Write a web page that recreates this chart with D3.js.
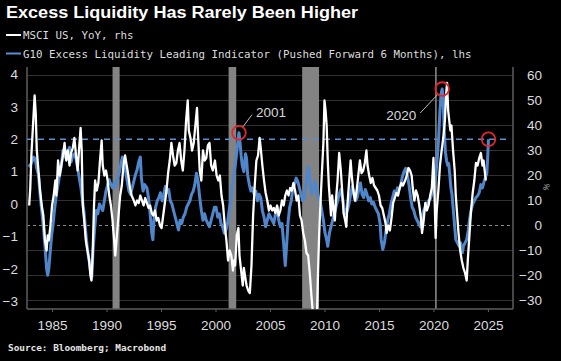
<!DOCTYPE html>
<html><head><meta charset="utf-8">
<script src="https://cdn.jsdelivr.net/npm/d3@7"></script>
<style>
html,body{margin:0;padding:0;background:#000;}
svg{display:block;}
</style></head>
<body>
<script>
// ---------- DATA ----------
const title = "Excess Liquidity Has Rarely Been Higher";
const legendLabels = ["MSCI US, YoY, rhs", "G10 Excess Liquidity Leading Indicator (Pushed Forward 6 Months), lhs"];
const sourceText = "Source: Bloomberg; Macrobond";
const yearTicks = [1985, 1990, 1995, 2000, 2005, 2010, 2015, 2020, 2025];
const leftTicks = [-3, -2, -1, 0, 1, 2, 3, 4];
const rightTicks = [-30, -20, -10, 0, 10, 20, 30, 40, 50, 60];
const recessions = [[1990.55, 1991.2], [2001.2, 2001.9], [2007.95, 2009.5], [2020.15, 2020.3]];

const msciDates = [1982.9,1983.0,1983.1,1983.25,1983.4,1983.5,1983.6,1983.75,1983.9,1984.05,1984.2,1984.35,1984.5,1984.6,1984.7,1984.85,1985.0,1985.15,1985.3,1985.4,1985.55,1985.7,1985.85,1986.0,1986.15,1986.3,1986.45,1986.6,1986.75,1986.9,1987.05,1987.2,1987.35,1987.5,1987.62,1987.72,1987.82,1987.95,1988.1,1988.25,1988.4,1988.52,1988.62,1988.72,1988.85,1988.95,1989.1,1989.25,1989.4,1989.55,1989.65,1989.8,1989.95,1990.1,1990.25,1990.4,1990.55,1990.7,1990.8,1990.95,1991.1,1991.25,1991.4,1991.55,1991.7,1991.85,1992.0,1992.15,1992.3,1992.5,1992.65,1992.8,1992.95,1993.1,1993.25,1993.4,1993.55,1993.7,1993.85,1994.0,1994.15,1994.3,1994.45,1994.6,1994.75,1994.9,1995.05,1995.2,1995.35,1995.5,1995.65,1995.8,1995.95,1996.1,1996.25,1996.4,1996.55,1996.7,1996.85,1997.0,1997.15,1997.3,1997.45,1997.55,1997.7,1997.85,1998.0,1998.15,1998.3,1998.4,1998.55,1998.7,1998.85,1999.0,1999.15,1999.3,1999.45,1999.6,1999.75,1999.95,2000.1,2000.25,2000.4,2000.55,2000.7,2000.85,2001.0,2001.15,2001.3,2001.45,2001.6,2001.7,2001.8,2001.95,2002.1,2002.2,2002.35,2002.5,2002.6,2002.7,2002.85,2003.0,2003.15,2003.3,2003.45,2003.6,2003.75,2003.9,2004.05,2004.15,2004.3,2004.45,2004.6,2004.75,2004.9,2005.05,2005.2,2005.35,2005.5,2005.65,2005.8,2005.95,2006.1,2006.25,2006.4,2006.55,2006.7,2006.85,2007.0,2007.15,2007.3,2007.45,2007.6,2007.75,2007.9,2008.05,2008.2,2008.35,2008.5,2008.65,2008.8,2008.95,2009.1,2009.2,2009.3,2009.4,2009.5,2009.6,2009.75,2009.9,2010.0,2010.1,2010.2,2010.3,2010.4,2010.5,2010.6,2010.7,2010.8,2010.95,2011.05,2011.2,2011.35,2011.5,2011.65,2011.75,2011.9,2012.0,2012.1,2012.25,2012.4,2012.5,2012.65,2012.8,2012.95,2013.1,2013.25,2013.4,2013.55,2013.7,2013.85,2013.95,2014.1,2014.25,2014.4,2014.55,2014.7,2014.85,2015.0,2015.15,2015.3,2015.45,2015.6,2015.7,2015.85,2016.0,2016.15,2016.3,2016.45,2016.6,2016.75,2016.9,2017.05,2017.2,2017.4,2017.55,2017.7,2017.85,2018.0,2018.1,2018.25,2018.4,2018.55,2018.7,2018.85,2018.95,2019.1,2019.25,2019.4,2019.55,2019.7,2019.85,2020.0,2020.1,2020.2,2020.3,2020.45,2020.6,2020.75,2020.9,2021.05,2021.15,2021.25,2021.35,2021.45,2021.55,2021.65,2021.8,2021.95,2022.05,2022.15,2022.3,2022.45,2022.6,2022.75,2022.9,2023.05,2023.15,2023.3,2023.45,2023.6,2023.75,2023.9,2024.05,2024.2,2024.35,2024.5,2024.6,2024.7,2024.8];
const msciValues = [8,15,28,40,52,45,30,22,14,8,4,-6,-10,-4,-6,0,8,12,18,12,26,20,24,28,33,26,30,24,29,31,35,28,22,32,39,30,8,2,-6,-10,-14,-20,-22,-12,8,18,14,17,26,34,24,20,22,18,12,8,2,-6,-12,-4,4,12,16,24,28,24,20,15,12,10,8,10,9,12,10,8,11,9,7,8,5,4,6,2,3,0,-1,4,9,14,21,26,33,28,24,25,30,33,26,22,30,42,50,38,35,30,33,40,47,36,22,18,30,26,27,32,33,24,22,26,20,18,20,12,8,0,-6,-14,-10,-12,-18,-14,-16,-4,-1,-12,-18,-24,-17,-20,-24,-26,-27,-16,4,16,26,28,35,31,24,18,13,10,6,8,6,7,5,8,4,6,10,8,12,14,12,15,14,17,14,10,12,4,2,-3,-6,-11,-12,-19,-28,-36,-42,-45,-38,-20,-5,6,20,33,50,46,40,26,16,10,4,12,8,2,10,18,29,22,12,5,2,-0.5,8,17,26,20,14,10,14,20,26,21,22,25,30,24,20,17,19,16,15,14,12,8,7,4,1,-3,0,-2,3,9,11,13,12,15,17,16,18,20,23,22,20,15,10,14,12,8,3,-3,2,9,6,8,12,15,27,12,-5,6,14,24,30,35,42,52,57,46,42,38,40,30,22,12,6,-3,-10,-14,-17,-19,-22,-14,-4,6,13,18,25,24,27,29,24,26,22,18];

const liqDates = [1982.85,1983.0,1983.15,1983.3,1983.45,1983.6,1983.75,1983.9,1984.05,1984.2,1984.35,1984.5,1984.6,1984.7,1984.8,1984.95,1985.1,1985.25,1985.4,1985.55,1985.7,1985.85,1986.0,1986.15,1986.3,1986.45,1986.6,1986.75,1986.9,1987.05,1987.2,1987.35,1987.5,1987.65,1987.8,1987.95,1988.1,1988.25,1988.4,1988.55,1988.65,1988.75,1988.9,1989.05,1989.2,1989.35,1989.5,1989.65,1989.8,1989.95,1990.1,1990.25,1990.4,1990.55,1990.7,1990.85,1991.0,1991.15,1991.3,1991.45,1991.6,1991.75,1991.9,1992.05,1992.2,1992.35,1992.5,1992.65,1992.8,1992.95,1993.1,1993.2,1993.35,1993.5,1993.7,1993.85,1994.0,1994.15,1994.25,1994.35,1994.5,1994.65,1994.8,1994.95,1995.1,1995.25,1995.4,1995.55,1995.7,1995.85,1996.0,1996.15,1996.3,1996.45,1996.6,1996.75,1996.9,1997.05,1997.2,1997.35,1997.5,1997.65,1997.8,1997.95,1998.1,1998.25,1998.4,1998.55,1998.7,1998.85,1999.0,1999.15,1999.3,1999.45,1999.6,1999.75,1999.9,2000.05,2000.2,2000.35,2000.5,2000.65,2000.8,2000.95,2001.1,2001.25,2001.4,2001.55,2001.7,2001.85,2001.95,2002.05,2002.15,2002.25,2002.35,2002.45,2002.6,2002.75,2002.85,2002.95,2003.1,2003.25,2003.4,2003.55,2003.7,2003.85,2004.0,2004.15,2004.3,2004.45,2004.6,2004.75,2004.9,2005.05,2005.2,2005.35,2005.5,2005.65,2005.8,2005.95,2006.1,2006.25,2006.4,2006.5,2006.65,2006.8,2006.95,2007.1,2007.25,2007.4,2007.55,2007.7,2007.85,2008.0,2008.15,2008.3,2008.45,2008.55,2008.7,2008.85,2009.0,2009.15,2009.3,2009.45,2009.6,2009.75,2009.9,2010.05,2010.2,2010.3,2010.45,2010.6,2010.75,2010.9,2011.05,2011.2,2011.35,2011.5,2011.65,2011.8,2011.95,2012.1,2012.25,2012.4,2012.55,2012.7,2012.85,2013.0,2013.15,2013.3,2013.45,2013.6,2013.75,2013.9,2014.05,2014.2,2014.35,2014.5,2014.65,2014.8,2014.95,2015.1,2015.2,2015.35,2015.5,2015.65,2015.8,2015.95,2016.1,2016.25,2016.4,2016.55,2016.7,2016.85,2017.0,2017.15,2017.3,2017.45,2017.6,2017.75,2017.9,2018.05,2018.2,2018.35,2018.5,2018.65,2018.8,2018.95,2019.1,2019.25,2019.4,2019.55,2019.7,2019.85,2020.0,2020.15,2020.3,2020.45,2020.6,2020.7,2020.8,2020.88,2020.97,2021.1,2021.2,2021.3,2021.4,2021.5,2021.6,2021.7,2021.8,2021.9,2022.05,2022.2,2022.35,2022.5,2022.65,2022.75,2022.9,2023.05,2023.2,2023.3,2023.45,2023.6,2023.75,2023.9,2024.05,2024.2,2024.35,2024.5,2024.65,2024.8,2024.9,2024.97,2025.05];
const liqValues = [1.15,1.2,1.3,1.45,1.4,1.1,0.9,0.3,-0.2,-0.7,-1.3,-2.0,-2.2,-2.0,-1.6,-1.0,-0.6,-0.1,0.3,0.6,0.9,1.2,1.65,1.5,1.4,1.6,1.75,1.3,1.5,1.55,1.4,1.1,0.8,0.5,0.1,-0.3,-0.9,-1.4,-1.75,-2.1,-2.25,-1.5,-0.8,-0.2,-0.3,0.0,-0.1,-0.2,0.1,0.4,0.6,0.75,0.6,0.5,0.65,0.55,0.8,0.95,1.2,1.45,1.3,1.0,0.7,0.4,0.3,0.5,0.7,0.9,1.05,1.3,1.45,0.8,0.4,0.6,0.5,0.2,-0.3,-0.9,-1.1,-0.5,-0.1,0.1,0.2,0.35,0.1,0.3,0.55,0.35,0.45,0.1,0.0,-0.2,-0.4,-0.6,-0.8,-0.5,-0.6,-0.4,-0.3,-0.1,0.0,0.1,0.3,0.4,0.6,0.95,0.7,0.2,-0.2,-0.5,-0.3,-0.5,-0.6,-0.7,-0.5,-0.3,-0.1,-0.1,-0.4,-0.3,-0.6,-0.7,-0.9,-0.8,-0.6,-0.2,0.1,0.6,0.9,1.3,1.6,1.9,2.2,1.9,1.5,1.2,1.0,1.55,1.4,0.9,0.6,0.4,0.5,0.3,0.4,0.1,0.3,0.2,-0.2,-0.4,-0.7,-0.5,-0.3,-0.4,-0.5,-0.6,-0.3,-0.1,-0.5,-0.7,-0.6,-1.2,-1.9,-1.4,-0.6,-0.1,0.1,0.5,0.6,0.8,0.7,0.5,0.3,0.1,0.2,0.6,1.05,1.15,0.6,0.3,0.5,0.7,0.4,0.2,0.1,-0.2,-0.5,-0.9,-1.1,-1.3,-0.9,-0.7,-0.5,-0.3,-0.1,0.1,0.3,0.45,0.2,-0.1,-0.3,-0.2,0.0,0.3,0.55,0.3,0.1,0.2,0.45,0.65,0.3,0.2,0.45,0.3,0.1,0.2,0.0,0.05,-0.1,-0.2,-0.3,-0.6,-1.1,-1.4,-1.2,-0.8,-0.5,-0.3,0.0,0.2,0.4,0.3,0.5,0.45,0.6,0.85,1.0,1.1,0.9,0.6,0.2,-0.1,-0.2,-0.4,-0.5,-0.6,-0.7,-0.4,-0.2,-0.1,0.0,0.1,0.15,0.3,0.45,0.7,1.2,1.9,2.9,3.4,3.55,3.3,2.4,1.6,1.35,1.2,1.25,0.9,0.5,0.3,-0.1,-0.5,-1.1,-1.2,-1.3,-1.2,-1.5,-1.3,-1.2,-1.1,-0.8,-0.5,-0.2,0.0,0.1,0.2,0.25,0.35,0.6,0.5,0.7,0.85,0.95,1.4,2.0];

const annotations = [
  {label: "2001", year: 2002.15, value: 2.2},
  {label: "2020", year: 2020.8, value: 3.55},
  {label: "", year: 2025.05, value: 2.0}
];
const liquidityThreshold = 2;

// ---------- CHART ----------
const W = 561, H = 361;
const plot = {left: 27, right: 513, top: 67, bottom: 309};
const svg = d3.select("body").append("svg").attr("width", W).attr("height", H)
  .style("background", "#000");

const x = d3.scaleLinear().domain([1982.7, 2027.3]).range([plot.left, plot.right]);
const yL = d3.scaleLinear().domain([-3.24, 4.23]).range([plot.bottom, plot.top]);
const yR = d3.scaleLinear().domain([-33.4, 63.4]).range([plot.bottom, plot.top]);

svg.append("defs").append("clipPath").attr("id", "clip")
  .append("rect").attr("x", plot.left).attr("y", plot.top)
  .attr("width", plot.right - plot.left).attr("height", plot.bottom - plot.top);

// gridlines at rhs ticks
svg.append("g").selectAll("line").data(rightTicks.filter(d => d !== 0)).join("line")
  .attr("x1", plot.left).attr("x2", plot.right)
  .attr("y1", d => yR(d)).attr("y2", d => yR(d))
  .attr("stroke", "#303030").attr("stroke-width", 1);

// recession bars
svg.append("g").selectAll("rect").data(recessions).join("rect")
  .attr("x", d => x(d[0])).attr("width", d => Math.max(1.5, x(d[1]) - x(d[0])))
  .attr("y", plot.top).attr("height", plot.bottom - plot.top)
  .attr("fill", "#838383");

// zero line for rhs (dotted)
svg.append("line").attr("x1", plot.left).attr("x2", plot.right)
  .attr("y1", yR(0)).attr("y2", yR(0))
  .attr("stroke", "#8a8a8a").attr("stroke-width", 1).attr("stroke-dasharray", "3,3");

// frame lines
svg.append("line").attr("x1", plot.left).attr("x2", plot.left).attr("y1", plot.top).attr("y2", plot.bottom)
  .attr("stroke", "#5e5e5e").attr("stroke-width", 1.5);
svg.append("line").attr("x1", plot.right).attr("x2", plot.right).attr("y1", plot.top).attr("y2", plot.bottom)
  .attr("stroke", "#5e5e5e").attr("stroke-width", 1.5);
svg.append("line").attr("x1", plot.left).attr("x2", plot.right).attr("y1", plot.bottom).attr("y2", plot.bottom)
  .attr("stroke", "#5e5e5e").attr("stroke-width", 1.5);

// threshold dashed blue line
svg.append("line").attr("x1", plot.left).attr("x2", plot.right - 4)
  .attr("y1", yL(liquidityThreshold)).attr("y2", yL(liquidityThreshold))
  .attr("stroke", "#5b8ed6").attr("stroke-width", 1.6).attr("stroke-dasharray", "6,5");

// lines
const gLines = svg.append("g").attr("clip-path", "url(#clip)");
const liqData = liqDates.map((d, i) => [d, liqValues[i]]);
const msciData = msciDates.map((d, i) => [d, msciValues[i]]);
gLines.append("path").datum(liqData)
  .attr("d", d3.line().x(d => x(d[0])).y(d => yL(d[1])))
  .attr("fill", "none").attr("stroke", "#4f86cc").attr("stroke-width", 3).attr("stroke-linejoin", "round");
gLines.append("path").datum(msciData)
  .attr("d", d3.line().x(d => x(d[0])).y(d => yR(d[1])))
  .attr("fill", "none").attr("stroke", "#ffffff").attr("stroke-width", 2.3).attr("stroke-linejoin", "round");

// axes
const tickFont = "Liberation Sans, Arial, sans-serif";
const axB = svg.append("g").attr("transform", `translate(0,${plot.bottom})`)
  .call(d3.axisBottom(x).tickValues(yearTicks).tickFormat(d3.format("d")).tickSize(3).tickPadding(8));
const axL = svg.append("g").attr("transform", `translate(${plot.left - 9},0)`)
  .call(d3.axisLeft(yL).tickValues(leftTicks).tickSize(0).tickPadding(0));
const axR = svg.append("g").attr("transform", `translate(${plot.right + 29},0)`)
  .call(d3.axisLeft(yR).tickValues(rightTicks).tickSize(0).tickPadding(0));
[axB, axL, axR].forEach(a => {
  a.select(".domain").remove();
  a.selectAll("text").attr("fill", "#dcdcdc").style("font-family", tickFont).style("font-size", "13.5px");
  a.selectAll("line").attr("stroke", "#5e5e5e");
});

// rhs unit mark
svg.append("text").attr("transform", `translate(549,188) rotate(-70)`)
  .attr("text-anchor", "middle").attr("fill", "#aaaaaa")
  .style("font-family", tickFont).style("font-size", "8px").text("%");

// annotations
annotations.forEach(a => {
  const cx = x(a.year), cy = yL(a.value);
  svg.append("circle").attr("cx", cx).attr("cy", cy).attr("r", 6.8)
    .attr("fill", "none").attr("stroke", "#e3262b").attr("stroke-width", 1.8);
});
const a01 = annotations[0], a20 = annotations[1];
svg.append("line").attr("x1", x(a01.year) + 4).attr("y1", yL(a01.value) - 6)
  .attr("x2", x(a01.year) + 13).attr("y2", yL(a01.value) - 18)
  .attr("stroke", "#bbbbbb").attr("stroke-width", 1);
svg.append("text").attr("x", x(a01.year) + 17).attr("y", yL(a01.value) - 16)
  .attr("fill", "#d8d8d8").style("font-family", tickFont).style("font-size", "13.5px").text(a01.label);
svg.append("line").attr("x1", x(a20.year) - 5).attr("y1", yL(a20.value) + 6)
  .attr("x2", x(a20.year) - 22).attr("y2", yL(a20.value) + 24)
  .attr("stroke", "#bbbbbb").attr("stroke-width", 1);
svg.append("text").attr("x", x(a20.year) - 41).attr("y", yL(a20.value) + 31)
  .attr("text-anchor", "middle")
  .attr("fill", "#d8d8d8").style("font-family", tickFont).style("font-size", "13.5px").text(a20.label);

// title
svg.append("text").attr("x", 6).attr("y", 18)
  .attr("fill", "#ffffff").style("font-family", "Liberation Sans, Arial, sans-serif")
  .style("font-weight", "bold").style("font-size", "16px")
  .attr("textLength", 352).attr("lengthAdjust", "spacingAndGlyphs").text(title);

// legend
const legColors = ["#ffffff", "#5b8ed6"];
const legY = [35, 53.5];
legendLabels.forEach((t, i) => {
  svg.append("line").attr("x1", 6).attr("x2", 21).attr("y1", legY[i]).attr("y2", legY[i])
    .attr("stroke", legColors[i]).attr("stroke-width", 2);
  svg.append("text").attr("x", 23).attr("y", legY[i] + 4)
    .attr("fill", "#dcdcdc").style("font-family", "DejaVu Sans Mono, monospace")
    .style("font-size", "10.8px").text(t);
});

// source
svg.append("text").attr("x", 8).attr("y", 351)
  .attr("fill", "#e6e6e6").style("font-family", "DejaVu Sans Mono, monospace")
  .style("font-weight", "bold").style("font-size", "9.4px").text(sourceText);
</script>
</body></html>
